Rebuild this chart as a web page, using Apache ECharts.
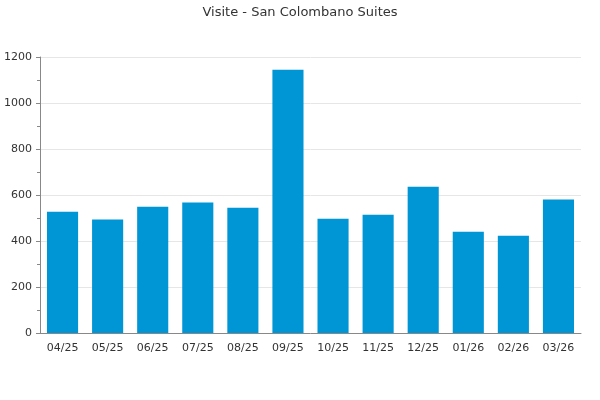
<!DOCTYPE html>
<html><head><meta charset="utf-8">
<script src="https://cdn.jsdelivr.net/npm/echarts@6/dist/echarts.min.js"></script>
<style>html,body{margin:0;padding:0;background:#fff}#c{width:600px;height:400px}</style>
</head><body><div id="c"></div>
<script>
const categories = ["04/25","05/25","06/25","07/25","08/25","09/25","10/25","11/25","12/25","01/26","02/26","03/26"];
const visits = [527, 493, 549, 567, 545, 1145, 497, 514, 636, 440, 423, 580];
const yTicks = {min: 0, max: 1200, interval: 200};
const chart = echarts.init(document.getElementById('c'), null, {renderer: 'canvas'});
chart.setOption({
  animation: false,
  textStyle: {fontFamily: 'DejaVu Sans'},
  title: {text: 'Visite - San Colombano Suites', left: 'center', top: 1,
    textStyle: {fontFamily: 'DejaVu Sans', fontSize: 13, fontWeight: 'normal', color: '#333'}},
  grid: {left: 40, right: 19, top: 57, bottom: 67, containLabel: false},
  xAxis: {type: 'category', data: categories,
    axisLine: {lineStyle: {color: '#888'}}, axisTick: {show: false},
    axisLabel: {color: '#333', fontSize: 11, margin: 10}},
  yAxis: {type: 'value', min: yTicks.min, max: yTicks.max, interval: yTicks.interval,
    axisLine: {show: true, lineStyle: {color: '#888'}},
    axisTick: {show: true, length: 4, lineStyle: {color: '#888'}},
    minorTick: {show: true, splitNumber: 2, length: 3, lineStyle: {color: '#888'}},
    splitLine: {lineStyle: {color: '#e6e6e6'}},
    axisLabel: {color: '#333', fontSize: 11, margin: 8, formatter: v => String(v)}},
  series: [{type: 'bar', data: visits, barCategoryGap: '31%',
    itemStyle: {color: '#0096d6'}}]
});
</script></body></html>
